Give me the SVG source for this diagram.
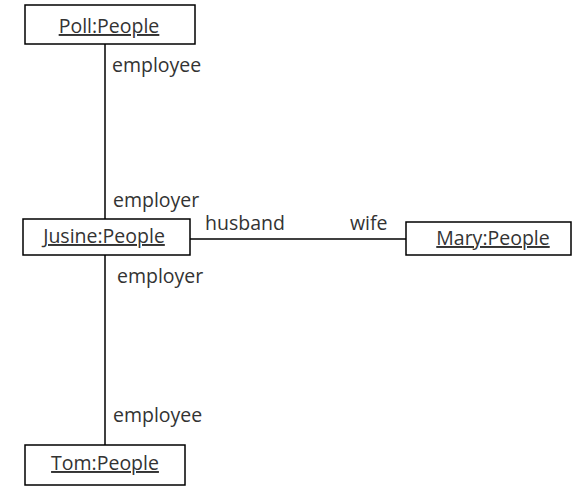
<svg xmlns="http://www.w3.org/2000/svg" width="573" height="488" viewBox="0 0 573 488">
<style>
.box{fill:#fff;stroke:#000;stroke-width:1.5}
.name{font-family:"Open Sans","DejaVu Sans",sans-serif;font-size:19.5px;fill:#333;text-anchor:middle;text-decoration:underline}
.lbl{font-family:"Open Sans","DejaVu Sans",sans-serif;font-size:19.5px;fill:#333}
.line{stroke:#000;stroke-width:1.5;fill:none}
</style>
<rect width="573" height="488" fill="#fff"/>
<g id="connectors">
<line class="line" x1="105" y1="44" x2="105" y2="219"/>
<line class="line" x1="105" y1="255" x2="105" y2="445"/>
<line class="line" x1="190" y1="239" x2="406" y2="239"/>
<text class="lbl" x="112" y="72">employee</text>
<text class="lbl" x="113" y="207">employer</text>
<text class="lbl" x="205" y="230">husband</text>
<text class="lbl" x="350" y="230">wife</text>
<text class="lbl" x="117" y="283">employer</text>
<text class="lbl" x="113" y="422">employee</text>
</g>
<g id="poll"><rect class="box" x="25" y="5" width="170" height="39"/><text class="name" x="109" y="33">Poll:People</text></g>
<g id="jusine"><rect class="box" x="23" y="219" width="167" height="36"/><text class="name" x="104" y="243">Jusine:People</text></g>
<g id="mary"><rect class="box" x="406" y="222" width="165" height="33"/><text class="name" x="493" y="245">Mary:People</text></g>
<g id="tom"><rect class="box" x="25" y="445" width="160" height="40"/><text class="name" x="105" y="470">Tom:People</text></g>
</svg>
